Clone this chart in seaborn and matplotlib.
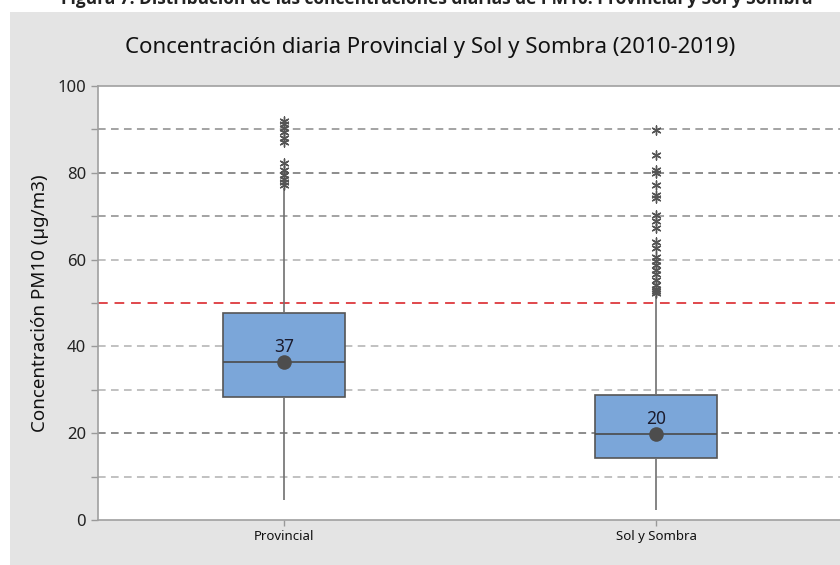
import pandas as pd
import matplotlib
matplotlib.use('Agg')
import matplotlib.pyplot as plt
from matplotlib.patches import Rectangle
import seaborn as sns

# valores (PM10 diario, 2010-2019)
categorias = ['Provincial', 'Sol y Sombra']
bigote_inf = [4.6, 2.3]
q1 = [28.4, 14.2]
mediana = [36.5, 19.8]
q3 = [47.8, 28.9]
bigote_sup = [76.5, 51.5]
media = [36.5, 19.9]
etiqueta_media = ['37', '20']

atipicos_prov = [92, 91.2, 90.3, 89.5, 88, 87.2, 82.3, 80.6, 79.6, 78.6, 77.8, 77.2]
atipicos_sol = [89.9, 84.2, 80.7, 80.0, 77.1, 75.0, 74.2, 70.3, 69.0, 67.2, 64.1, 62.7,
                60.6, 59.6, 58.7, 57.7, 56.6, 55.4, 54.2, 53.2, 52.7, 52.3]

lineas_guia = [10, 20, 30, 40, 60, 70, 80, 90]
colores_guia = ['#b0b0b0', '#6e6e6e', '#b0b0b0', '#b0b0b0', '#b0b0b0', '#8a8a8a', '#6e6e6e', '#8a8a8a']
limite = 50

titulo = 'Concentración diaria Provincial y Sol y Sombra (2010-2019)'
leyenda_fig = 'Figura 7. Distribución de las concentraciones diarias de PM10. Provincial y Sol y Sombra'

# tablas para seaborn
filas = []
for i, c in enumerate(categorias):
    for v in (bigote_inf[i], q1[i], mediana[i], q3[i], bigote_sup[i]):
        filas.append((c, v))
df_caja = pd.DataFrame(filas, columns=['sitio', 'pm10'])
df_atip = pd.DataFrame({
    'sitio': [categorias[0]] * len(atipicos_prov) + [categorias[1]] * len(atipicos_sol),
    'pm10': atipicos_prov + atipicos_sol,
})

sns.set_theme(style='white')
plt.rcParams['font.family'] = ['Noto Sans', 'DejaVu Sans']

fig = plt.figure(figsize=(8.4, 5.65), dpi=100)
fig.patches.append(Rectangle((10 / 840, 0), 1, 1 - 12 / 565, transform=fig.transFigure,
                             facecolor='#e4e4e4', edgecolor='none', zorder=-10))
ax = fig.add_axes([98 / 840, 45 / 565, 744 / 840, 434 / 565])
ax.set_facecolor('white')

for y, c in zip(lineas_guia, colores_guia):
    ax.axhline(y, color=c, linestyle=(0, (5, 3.5)), linewidth=1.1, zorder=0)
ax.axhline(limite, color='#e0474c', linestyle=(0, (5, 3.5)), linewidth=1.4, zorder=0)

sns.boxplot(data=df_caja, x='sitio', y='pm10', order=categorias, whis=(0, 100), width=0.33,
            color='#7ba6d9', saturation=1, linecolor='#555555', linewidth=1.2, showfliers=False,
            capprops={'visible': False}, whiskerprops={'color': '#707070'},
            medianprops={'color': '#4a4a4a'}, ax=ax)

sns.stripplot(data=df_atip, x='sitio', y='pm10', order=categorias, jitter=False,
              marker=(6, 2, 0), size=6.5, color='#555555', edgecolor='#555555',
              linewidth=1.0, ax=ax)

sns.stripplot(x=categorias, y=media, order=categorias, jitter=False, size=10.5,
              color='#4d4d4d', ax=ax, zorder=5)

for i, txt in enumerate(etiqueta_media):
    ax.text(i, media[i] + 1.4, txt, ha='center', va='bottom', fontsize=12.5, color='#1c1c2e')

ax.set_xlim(-0.5, 1.5)
ax.set_ylim(0, 100)
ax.set_yticks([0, 20, 40, 60, 80, 100])
ax.set_yticks([10, 30, 50, 70, 90], minor=True)
ax.tick_params(axis='y', which='both', left=True, direction='out', length=5, width=1,
               color='#999999', labelsize=12, labelcolor='#222222')
ax.tick_params(axis='x', bottom=True, direction='out', length=4, width=1,
               color='#999999', labelsize=9.5, labelcolor='#111111')
for s in ax.spines.values():
    s.set_color('#a0a0a0')
    s.set_linewidth(1.2)

ax.set_xlabel('')
ax.set_ylabel('Concentración PM10 (µg/m3)', fontsize=13.5, color='#111111', labelpad=6)

fig.text(430 / 840, 1 - 47 / 565, titulo, ha='center', va='center', fontsize=16, color='#111111')
fig.text(437 / 840, 1 - 4 / 565, leyenda_fig, ha='center', va='baseline', fontsize=12.5,
         fontweight='bold', family=['Open Sans', 'DejaVu Sans'], color='#222222')

fig.savefig('out.png', dpi=100, facecolor='white')
